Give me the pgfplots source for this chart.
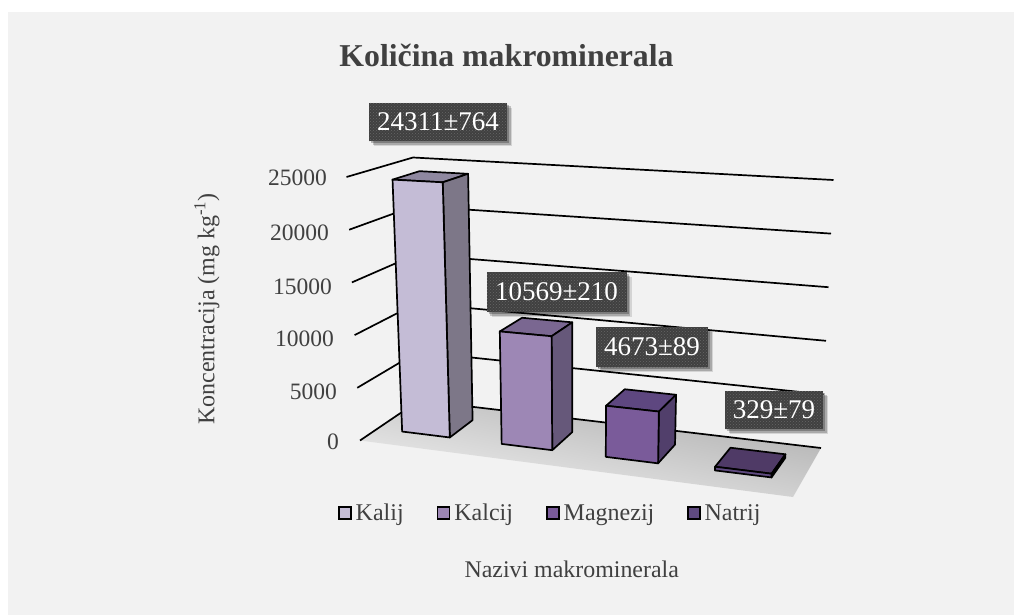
\documentclass[border=0pt]{standalone}
\usepackage{pgfplots}
\usepackage{fontspec}
\setmainfont{Liberation Serif}
\pgfplotsset{compat=1.18}
\usetikzlibrary{patterns,shadows}
\definecolor{pagebg}{HTML}{F2F2F2}
\definecolor{txt}{HTML}{404040}
\definecolor{boxc}{HTML}{404040}
\definecolor{aF}{HTML}{C4BCD6}\definecolor{aS}{HTML}{7D7788}\definecolor{aT}{HTML}{8F88A0}
\definecolor{bF}{HTML}{9D87B5}\definecolor{bS}{HTML}{66587A}\definecolor{bT}{HTML}{7A6791}
\definecolor{cF}{HTML}{7A5B9A}\definecolor{cS}{HTML}{513F6B}\definecolor{cT}{HTML}{5E4780}
\definecolor{dF}{HTML}{5F4A80}\definecolor{dS}{HTML}{3E2D55}\definecolor{dT}{HTML}{4F3A66}
% face polygon of a bar: u,v are positions on the floor, z the value read from the chart
\newcommand{\face}[2]{\addplot[forget plot,#1,draw=black,line width=1.7pt,line join=round]
  table[row sep=\\,x expr={PX(\thisrow{u},\thisrow{v},\thisrow{z})},y expr={PY(\thisrow{u},\thisrow{v},\thisrow{z})}]{u v z\\ #2} --cycle;}
% one bar: u0 u1 value front side top
\newcommand{\barthree}[6]{%
 \face{fill=#6}{#1 .72 #3\\ #2 .72 #3\\ #2 .30 #3\\ #1 .30 #3\\}
 \face{fill=#5}{#2 .30 0\\ #2 .72 0\\ #2 .72 #3\\ #2 .30 #3\\}
 \face{fill=#4}{#1 .30 0\\ #2 .30 0\\ #2 .30 #3\\ #1 .30 #3\\}}
\newcommand{\gridl}[1]{\addplot[forget plot,black,line width=1.7pt,line join=round]
  table[row sep=\\,x expr={PX(\thisrow{u},\thisrow{v},\thisrow{z})},y expr={PY(\thisrow{u},\thisrow{v},\thisrow{z})}]{u v z\\ 0 0 #1\\ 0 1 #1\\ 1 1 #1\\};}
\tikzset{lab/.style={text=txt,inner sep=0pt},
 vb/.style={fill=boxc,text=white,inner sep=0pt,align=center,font=\fontsize{27}{30}\selectfont,
   drop shadow={shadow xshift=2pt,shadow yshift=-2pt,opacity=.25,fill=black},
   drop shadow={shadow xshift=3.5pt,shadow yshift=-3.5pt,opacity=.2,fill=black},
   drop shadow={shadow xshift=5pt,shadow yshift=-5pt,opacity=.12,fill=black},
   postaction={pattern=crosshatch dots,pattern color=gray!60!boxc}}}
\begin{document}
\begin{tikzpicture}
\begin{axis}[
  scale only axis,width=1014pt,height=615pt,
  xmin=0,xmax=1014,ymin=0,ymax=615,y dir=reverse,hide axis,clip=false,
  declare function={
   PX(\u,\v,\z)=(1-\z/25000)*((1-\v)*((1-\u)*360+\u*790)+\v*((1-\u)*419+\u*821))
               +(\z/25000)*((1-\v)*((1-\u)*346.5+\u*802)+\v*((1-\u)*413+\u*833.5));
   PY(\u,\v,\z)=(1-\z/25000)*((1-\v)*((1-\u)*440.5+\u*495)+\v*((1-\u)*400.5+\u*448))
               +(\z/25000)*((1-\v)*((1-\u)*177+\u*200)+\v*((1-\u)*157.5+\u*180));
  },
  legend columns=4,
  legend cell align=left,
  legend style={at={(338/1014,1-513/615)},anchor=west,draw=none,fill=none,inner sep=0pt,outer sep=0pt,
    font=\fontsize{24}{26}\selectfont,text=txt,
    nodes={inner sep=0pt},
    /tikz/every odd column/.append style={column sep=4pt},
    /tikz/column 2/.style={column sep=33pt},
    /tikz/column 4/.style={column sep=33pt},
    /tikz/column 6/.style={column sep=32.5pt}},
  legend image code/.code={\draw[#1,line width=1.7pt] (0.75pt,-6pt) rectangle (12.75pt,6pt);},
]
% page and plot background
\addplot[forget plot,fill=white,draw=none] coordinates {(0,0)(1014,0)(1014,615)(0,615)} --cycle;
\addplot[forget plot,fill=pagebg,draw=none] coordinates {(8,12)(1014,12)(1014,615)(8,615)} --cycle;
% floor
\addplot[forget plot,draw=none,top color=black!32,bottom color=pagebg,shading angle=-12]
  coordinates {(360,440.5)(419,400.5)(821,448)(793,497)} --cycle;
% walls' gridlines
\gridl{0}\gridl{5000}\gridl{10000}\gridl{15000}\gridl{20000}\gridl{25000}
% bars
\barthree{.058}{.171}{24311}{aF}{aS}{aT}
\barthree{.294}{.414}{10569}{bF}{bS}{bT}
\barthree{.541}{.665}{4673}{cF}{cS}{cT}
\barthree{.800}{.934}{329}{dF}{dS}{dT}
\addlegendimage{fill=aF,draw=black}\addlegendentry{Kalij}
\addlegendimage{fill=bF,draw=black}\addlegendentry{Kalcij}
\addlegendimage{fill=cF,draw=black}\addlegendentry{Magnezij}
\addlegendimage{fill=dF,draw=black}\addlegendentry{Natrij}
% value boxes
\node[vb,minimum width=138pt,minimum height=38pt] at (axis cs:438,122) {24311±764};
\node[vb,minimum width=140pt,minimum height=40pt] at (axis cs:556.5,292) {10569±210};
\node[vb,minimum width=112pt,minimum height=40pt] at (axis cs:652,347) {4673±89};
\node[vb,minimum width=98pt,minimum height=38pt] at (axis cs:774,410) {329±79};
% tick labels
\foreach \yy/\xx/\tt in {178/327/25000,233/329/20000,287/332/15000,339/334/10000,392/337/5000,442/339/0}{
  \edef\tmp{\noexpand\node[lab,anchor=east,font=\noexpand\fontsize{23.5}{26}\noexpand\selectfont] at (axis cs:\xx,\yy) {\tt};}\tmp}
% titles
\node[lab,font=\fontsize{31.8}{36}\bfseries\selectfont] at (axis cs:506.5,55) {Količina makrominerala};
\node[lab,font=\fontsize{23.9}{26}\selectfont] at (axis cs:571.7,569) {Nazivi makrominerala};
\node[lab,rotate=90,font=\fontsize{24}{26}\selectfont] at (axis cs:207,309) {Koncentracija (mg kg\textsuperscript{-1})};
\end{axis}
\end{tikzpicture}
\end{document}
